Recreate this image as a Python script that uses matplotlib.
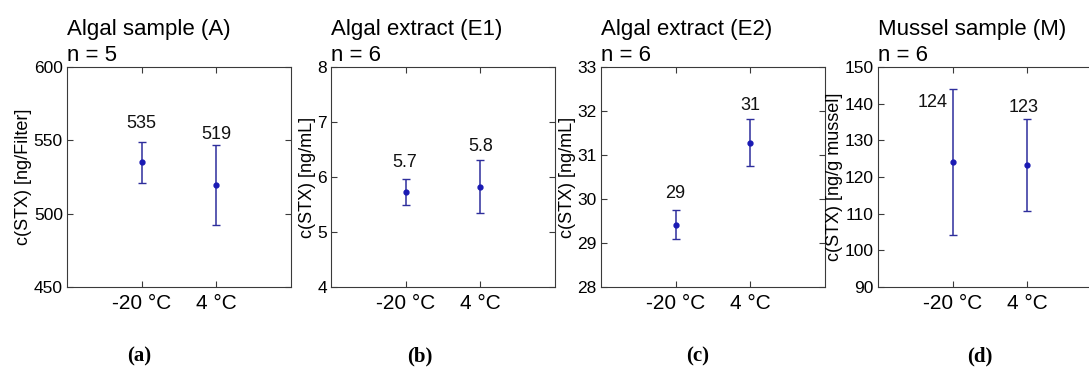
import matplotlib
matplotlib.use("Agg")
import matplotlib.pyplot as plt

# storage temperature groups
temps = ["-20 °C", "4 °C"]

titles = ["Algal sample (A)\nn = 5", "Algal extract (E1)\nn = 6",
          "Algal extract (E2)\nn = 6", "Mussel sample (M)\nn = 6"]
ylabels = ["c(STX) [ng/Filter]", "c(STX) [ng/mL]", "c(STX) [ng/mL]",
           "c(STX) [ng/g mussel]"]
panel_tags = ["(a)", "(b)", "(c)", "(d)"]

# mean and error (half-range) per panel, order: -20 °C, 4 °C
means_a = [535.2, 519.5]
errs_a = [14.0, 27.2]
means_e1 = [5.73, 5.82]
errs_e1 = [0.24, 0.48]
means_e2 = [29.42, 31.28]
errs_e2 = [0.34, 0.53]
means_m = [124.0, 123.3]
errs_m = [19.9, 12.6]

value_labels = [["535", "519"], ["5.7", "5.8"], ["29", "31"], ["124", "123"]]

ylims = [(450, 600), (4, 8), (28, 33), (90, 150)]
yticks = [[450, 500, 550, 600], [4, 5, 6, 7, 8], [28, 29, 30, 31, 32, 33],
          [90, 100, 110, 120, 130, 140, 150]]

means = [means_a, means_e1, means_e2, means_m]
errs = [errs_a, errs_e1, errs_e2, errs_m]

# label offsets from the top cap, in points (dx, dy)
label_offsets = [[(0, 12.7), (0, 7.7)], [(-1, 11.5), (0, 9.9)],
                 [(0, 11.3), (0, 9.9)], [(-14.4, -9.4), (-3, 7.9)]]

plt.rcParams["font.family"] = ["Liberation Sans", "DejaVu Sans"]

W, H = 1089, 368
fig = plt.figure(figsize=(W / 100, H / 100), dpi=100)

lefts = [67, 331, 601, 878]
tag_x = [139, 420, 698, 980]
bar_c = "#2e2e9c"
spine_c = "#3a3a3a"

for i in range(4):
    ax = fig.add_axes([lefts[i] / W, 81 / H, 224 / W, 220 / H])
    x = [1, 2]
    ax.errorbar(x, means[i], yerr=errs[i], fmt="o", ms=3.5, color=bar_c,
                mfc="#1a1ab4", mec="#1a1ab4", ecolor=bar_c, elinewidth=1.1,
                capsize=3, capthick=1.0, zorder=3)
    for j in range(2):
        dx, dy = label_offsets[i][j]
        ax.annotate(value_labels[i][j], (x[j], means[i][j] + errs[i][j]),
                    xytext=(dx, dy), textcoords="offset points",
                    ha="center", va="center", fontsize=13, color="#111111")
    ax.set_xlim(0, 3)
    ax.set_ylim(*ylims[i])
    ax.set_xticks(x)
    ax.set_xticklabels(temps)
    ax.set_yticks(yticks[i])
    ax.tick_params(direction="in", top=True, right=True, length=4,
                   width=0.8, color=spine_c)
    ax.tick_params(axis="x", labelsize=15, pad=5)
    ax.tick_params(axis="y", labelsize=12.5, pad=3)
    for s in ax.spines.values():
        s.set_color(spine_c)
        s.set_linewidth(0.8)
    # label sits right against the tick labels, as in the matlab export
    ax.set_ylabel(ylabels[i], fontsize=13, labelpad=1)
    ax.set_title(titles[i], loc="left", fontsize=16, pad=4, linespacing=1.36)
    fig.text(tag_x[i] / W, 0.03, panel_tags[i], ha="center", va="center",
             fontsize=15, fontweight="bold", family="Liberation Serif")

fig.savefig("out.png", dpi=100)
